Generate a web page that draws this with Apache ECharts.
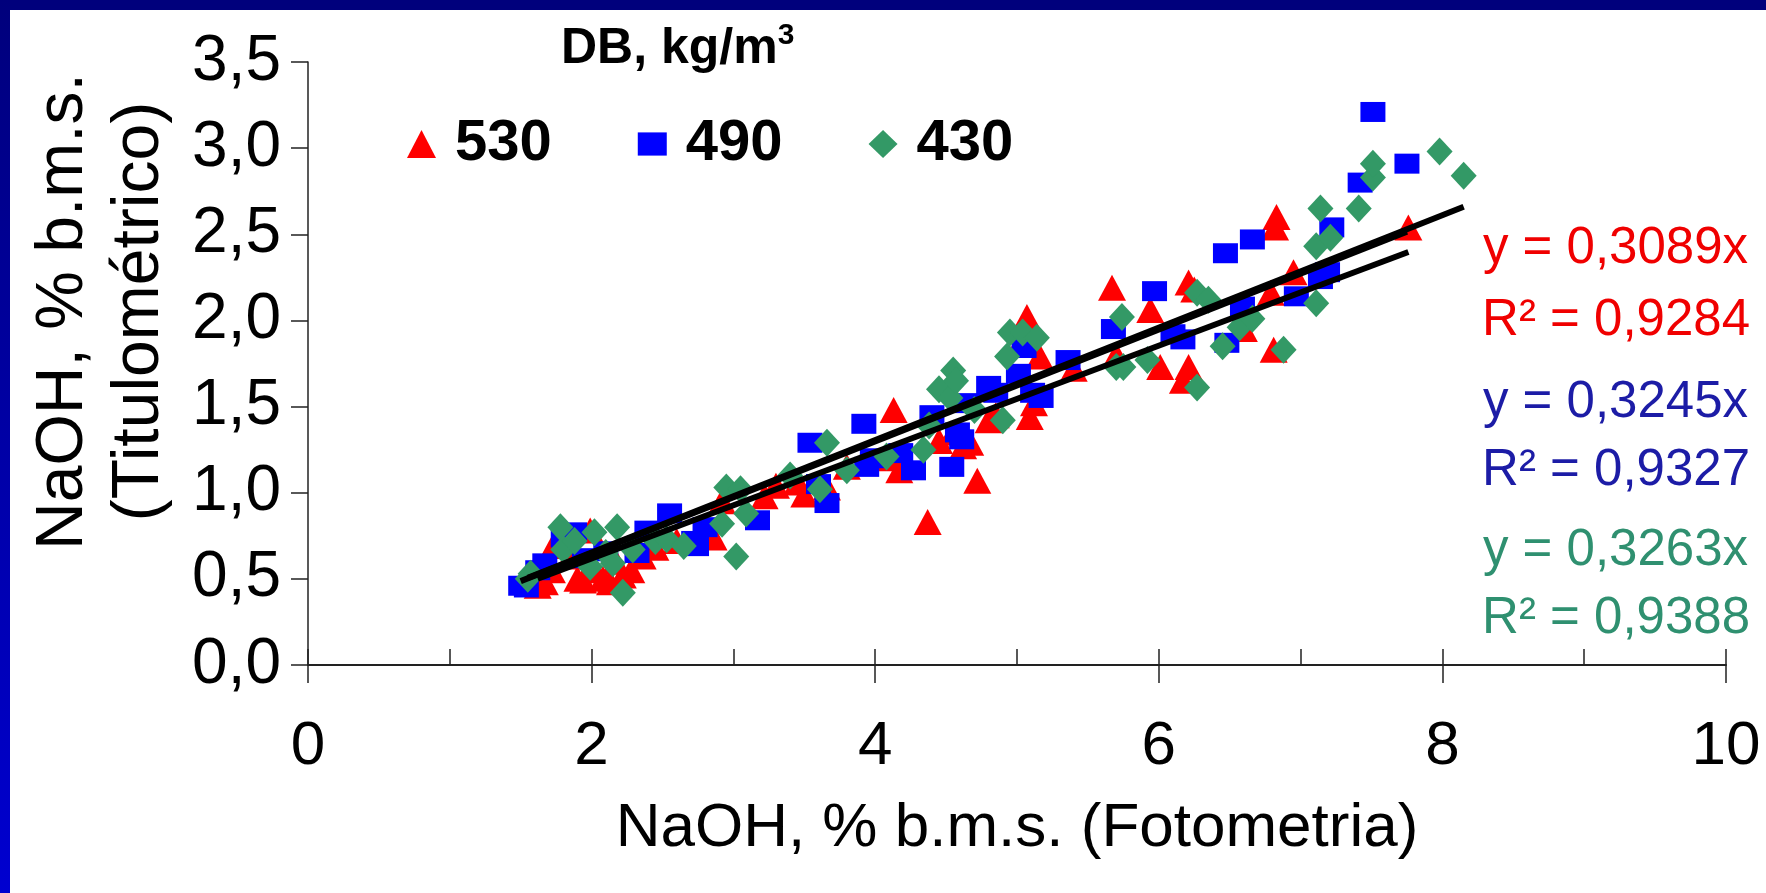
<!DOCTYPE html>
<html>
<head>
<meta charset="utf-8">
<title>NaOH titulométrico x fotometria</title>
<script src="https://cdn.jsdelivr.net/npm/echarts@6/dist/echarts.min.js"></script>
<style>
  html, body { margin: 0; padding: 0; background: #fff; }
  #chart { width: 1766px; height: 893px; }
</style>
</head>
<body>
<div id="chart"></div>
<script>
const FONT = '"Liberation Sans", Arial, Helvetica, sans-serif';

// densidade básica (kg/m3) de cada série
const seriesNames = ['530', '490', '430'];
const seriesColors = ['#ff0000', '#0000ff', '#339966'];
const eqColors = ['#f00000', '#1c1ca6', '#2f9070'];

// coeficientes das linhas de tendência (y = a·x) e R²
const slopes = [0.3089, 0.3245, 0.3263];
const slopeLabels = ['0,3089', '0,3245', '0,3263'];
const r2Labels = ['0,9284', '0,9327', '0,9388'];

const xTickLabels = ['0', '1', '2', '3', '4', '5', '6', '7', '8', '9', '10'];
const yTickLabels = ['0,0', '0,5', '1,0', '1,5', '2,0', '2,5', '3,0', '3,5'];

// [fotometria, titulométrico]
const points530 = [
  [1.62, 0.46], [1.67, 0.48], [1.72, 0.55], [1.73, 0.69], [1.78, 0.74], [1.85, 0.63],
  [1.90, 0.50], [1.94, 0.49], [1.99, 0.78], [2.02, 0.55], [2.08, 0.50], [2.13, 0.48],
  [2.17, 0.60], [2.22, 0.52], [2.28, 0.55], [2.36, 0.63], [2.45, 0.68], [2.60, 0.72],
  [2.78, 0.76], [2.86, 0.74], [2.92, 0.95], [3.22, 0.98], [3.30, 1.04], [3.45, 1.06],
  [3.50, 0.99], [3.66, 1.03], [3.80, 1.15], [4.10, 1.20], [4.13, 1.48], [4.17, 1.13],
  [4.22, 1.18], [4.37, 0.83], [4.45, 1.30], [4.55, 1.35], [4.62, 1.27], [4.67, 1.29],
  [4.72, 1.07], [4.80, 1.42], [4.85, 1.45], [5.05, 1.91], [5.07, 2.02], [5.09, 1.44],
  [5.12, 1.52], [5.16, 1.79], [5.40, 1.72], [5.67, 2.19], [5.70, 1.80], [5.94, 2.06],
  [6.01, 1.73], [6.17, 1.65], [6.21, 1.73], [6.21, 2.22], [6.25, 2.18], [6.60, 1.95],
  [6.79, 2.16], [6.81, 1.83], [6.82, 2.54], [6.83, 2.60], [6.95, 2.28], [7.76, 2.54],
];
const points490 = [
  [1.50, 0.46], [1.54, 0.45], [1.62, 0.55], [1.67, 0.59], [1.80, 0.74], [1.88, 0.77],
  [1.95, 0.62], [2.10, 0.66], [2.32, 0.65], [2.39, 0.78], [2.55, 0.88], [2.72, 0.72],
  [2.74, 0.69], [2.80, 0.80], [3.17, 0.84], [3.54, 1.29], [3.60, 1.05], [3.66, 0.94],
  [3.92, 1.40], [3.94, 1.15], [3.98, 1.20], [4.18, 1.23], [4.27, 1.13], [4.40, 1.45],
  [4.54, 1.15], [4.58, 1.35], [4.61, 1.31], [4.65, 1.52], [4.80, 1.62], [4.85, 1.58],
  [5.01, 1.69], [5.05, 1.84], [5.11, 1.58], [5.17, 1.55], [5.36, 1.77], [5.68, 1.95],
  [5.97, 2.17], [6.10, 1.92], [6.17, 1.89], [6.48, 1.87], [6.47, 2.39], [6.59, 2.08],
  [6.66, 2.47], [6.97, 2.14], [7.14, 2.24], [7.19, 2.28], [7.22, 2.54], [7.42, 2.80],
  [7.51, 3.21], [7.75, 2.91],
];
const points430 = [
  [1.55, 0.50], [1.57, 0.53], [1.78, 0.80], [1.80, 0.67], [1.88, 0.72], [1.99, 0.57],
  [2.02, 0.77], [2.10, 0.65], [2.15, 0.59], [2.18, 0.80], [2.22, 0.42], [2.29, 0.67],
  [2.45, 0.72], [2.53, 0.73], [2.65, 0.69], [2.92, 0.82], [2.95, 1.03], [3.02, 0.63],
  [3.05, 1.02], [3.09, 0.88], [3.40, 1.10], [3.61, 1.02], [3.66, 1.29], [3.80, 1.13],
  [4.08, 1.21], [4.34, 1.25], [4.38, 1.39], [4.45, 1.60], [4.53, 1.55], [4.55, 1.71],
  [4.57, 1.65], [4.70, 1.48], [4.90, 1.42], [4.93, 1.79], [4.95, 1.93], [5.04, 1.93],
  [5.14, 1.90], [5.70, 1.73], [5.74, 2.02], [5.75, 1.73], [5.92, 1.77], [6.27, 1.61],
  [6.27, 2.16], [6.35, 2.12], [6.45, 1.85], [6.57, 1.96], [6.66, 2.01], [6.88, 1.83],
  [7.11, 2.10], [7.11, 2.43], [7.14, 2.65], [7.21, 2.48], [7.41, 2.65], [7.51, 2.83],
  [7.51, 2.91], [7.98, 2.98], [8.15, 2.84],
];

const allPoints = [points530, points490, points430];
const symbols = ['triangle', 'rect', 'diamond'];
const symbolSizes = [[28, 26], [25, 20], [26, 28]];

// linha de tendência pela origem, do menor ao maior x da série
const trendLine = (pts, k) => {
  const xs = pts.map(p => p[0]);
  const lo = Math.min(...xs);
  const hi = Math.max(...xs);
  return [[lo, k * lo], [hi, k * hi]];
};

const scatterSeries = allPoints.map((pts, i) => ({
  name: seriesNames[i],
  type: 'scatter',
  data: pts,
  symbol: symbols[i],
  symbolSize: symbolSizes[i],
  itemStyle: { color: seriesColors[i], opacity: 1 },
  z: 2 + i,
}));

const trendSeries = allPoints.map((pts, i) => ({
  name: 'tendência ' + seriesNames[i],
  type: 'line',
  data: trendLine(pts, slopes[i]),
  symbol: 'none',
  lineStyle: { color: '#000', width: 6 },
  z: 10,
}));

// rótulos das equações, à direita
const eqY = [[249, 321], [403, 471], [551, 619]];
const eqText = [];
slopeLabels.forEach((s, i) => {
  eqText.push({
    type: 'text', x: 1748, y: eqY[i][0], z: 20,
    style: { text: 'y = ' + s + 'x', fontSize: 51, fontFamily: FONT, fill: eqColors[i], align: 'right', verticalAlign: 'middle' },
  });
  eqText.push({
    type: 'text', x: 1750, y: eqY[i][1], z: 20,
    style: { text: 'R² = ' + r2Labels[i], fontSize: 51, fontFamily: FONT, fill: eqColors[i], align: 'right', verticalAlign: 'middle' },
  });
});

const chart = echarts.init(document.getElementById('chart'));
chart.setOption({
  animation: false,
  backgroundColor: '#ffffff',
  textStyle: { fontFamily: FONT, color: '#000' },
  title: {
    text: '{a|DB, kg/m}{sup|3}',
    left: 556,
    top: 16,
    textStyle: {
      rich: {
        a: { fontSize: 50, fontWeight: 'bold', fontFamily: FONT, color: '#000', lineHeight: 56 },
        sup: { fontSize: 30, fontFamily: FONT, color: '#000', verticalAlign: 'top', lineHeight: 32 },
      },
    },
  },
  legend: {
    data: [
      { name: '530', icon: 'triangle' },
      { name: '490', icon: 'path://M0,0H25V20H0Z' },
      { name: '430', icon: 'diamond' },
    ],
    left: 402,
    top: 110,
    itemWidth: 29,
    itemHeight: 28,
    itemGap: 86,
    selectedMode: false,
    textStyle: { fontSize: 58, fontWeight: 'bold', fontFamily: FONT, color: '#000', padding: [0, 0, 0, 14] },
  },
  grid: { left: 308, right: 40, top: 62, bottom: 228, containLabel: false },
  xAxis: [
    {
      type: 'value',
      min: 0,
      max: 10,
      interval: 2,
      name: 'NaOH, % b.m.s. (Fotometria)',
      nameLocation: 'middle',
      nameGap: 132,
      nameTextStyle: { fontSize: 62, lineHeight: 64, fontFamily: FONT, color: '#000' },
      splitLine: { show: false },
      axisLine: { onZero: false, lineStyle: { color: '#222', width: 2 } },
      axisTick: { inside: false, length: 18, lineStyle: { color: '#222', width: 1.5 } },
      axisLabel: {
        fontSize: 62, lineHeight: 64, margin: 50, color: '#000', fontFamily: FONT,
        formatter: v => xTickLabels[Math.round(v)],
      },
    },
    {
      // marcas internas a cada unidade (sobreposto ao eixo principal)
      type: 'value',
      min: 0,
      max: 10,
      interval: 1,
      position: 'bottom',
      splitLine: { show: false },
      axisLine: { show: false, onZero: false },
      axisTick: { inside: true, length: 16, lineStyle: { color: '#222', width: 1.5 } },
      axisLabel: { show: false },
    },
  ],
  yAxis: {
    type: 'value',
    min: 0,
    max: 3.5,
    interval: 0.5,
    name: 'NaOH, % b.m.s.\n(Titulométrico)',
    nameLocation: 'middle',
    nameRotate: 90,
    nameGap: 130,
    nameTextStyle: { fontSize: 66, lineHeight: 76, fontFamily: FONT, color: '#000', padding: [0, 0, 0, 104] },
    splitLine: { show: false },
    axisLine: { onZero: false, lineStyle: { color: '#222', width: 1.5 } },
    axisTick: { inside: false, length: 17, lineStyle: { color: '#222', width: 1.5 } },
    axisLabel: {
      fontSize: 64, margin: 27, color: '#000', fontFamily: FONT,
      formatter: v => yTickLabels[Math.round(v / 0.5)],
    },
  },
  graphic: [
    { type: 'rect', shape: { x: 0, y: 0, width: 1766, height: 10 }, style: { fill: '#00007c' }, z: 30 },
    {
      type: 'rect', shape: { x: 0, y: 0, width: 10, height: 893 }, z: 30,
      style: {
        fill: new echarts.graphic.LinearGradient(0, 0, 0, 1, [
          { offset: 0, color: '#00007c' },
          { offset: 1, color: '#0000d0' },
        ]),
      },
    },
    ...eqText,
  ],
  series: [...scatterSeries, ...trendSeries],
});
</script>
</body>
</html>
